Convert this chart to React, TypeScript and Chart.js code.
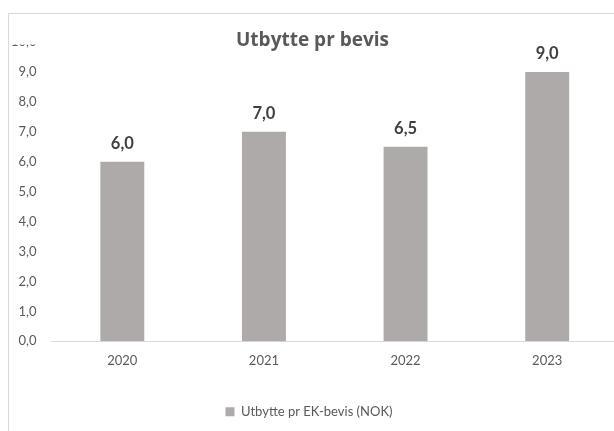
import React, { useEffect, useRef } from "react";
import { Chart, registerables } from "chart.js";

Chart.register(...registerables);

const titleText = "Utbytte pr bevis";
const seriesLabel = "Utbytte pr EK-bevis (NOK)";
const categories = ["2020", "2021", "2022", "2023"];
const values = [6.0, 7.0, 6.5, 9.0];
const yMin = 0;
const yMax = 10;
const yStep = 1;

const FONT = "Lato, 'Open Sans', sans-serif";
const TITLE_FONT = "'Open Sans', Lato, sans-serif";
const BAR_COLOR = "#AEAAAA";
const TEXT_COLOR = "#595959";
const LABEL_COLOR = "#404040";
const LINE_COLOR = "#D9D9D9";

const fmt = (v: number) => v.toFixed(1).replace(".", ",");

const decorPlugin = {
  id: "decor",
  beforeDraw(chart: any) {
    const ctx = chart.ctx;
    ctx.save();
    ctx.fillStyle = "#ffffff";
    ctx.fillRect(0, 0, chart.width, chart.height);
    ctx.strokeStyle = LINE_COLOR;
    ctx.lineWidth = 1;
    ctx.strokeRect(8.5, 13.5, chart.width + 100, chart.height + 100);
    ctx.restore();
  },
  afterDatasetsDraw(chart: any) {
    const ctx = chart.ctx;
    const meta = chart.getDatasetMeta(0);
    ctx.save();
    ctx.fillStyle = LABEL_COLOR;
    ctx.font = `bold 16.5px ${FONT}`;
    ctx.textAlign = "center";
    ctx.textBaseline = "alphabetic";
    meta.data.forEach((bar: any, i: number) => {
      ctx.fillText(fmt(values[i]), bar.x, bar.y - 13);
    });
    ctx.restore();
  },
  afterDraw(chart: any) {
    const ctx = chart.ctx;
    ctx.save();
    ctx.fillStyle = "#ffffff";
    ctx.fillRect(9, 14, 590, 30.5);
    ctx.fillStyle = TEXT_COLOR;
    ctx.font = `bold 19px ${TITLE_FONT}`;
    ctx.textAlign = "center";
    ctx.textBaseline = "alphabetic";
    ctx.fillText(titleText, 312.5, 45.5);
    ctx.restore();
  },
};

export default function App() {
  const canvasRef = useRef<HTMLCanvasElement | null>(null);

  useEffect(() => {
    if (!canvasRef.current) return;
    const chart = new Chart(canvasRef.current, {
      type: "bar",
      data: {
        labels: categories,
        datasets: [
          {
            label: seriesLabel,
            data: values,
            backgroundColor: BAR_COLOR,
            borderWidth: 0,
            categoryPercentage: 1,
            barPercentage: 0.31,
          },
        ],
      },
      options: {
        animation: false,
        responsive: false,
        layout: { padding: { top: 42, right: 12, bottom: 2.7, left: 0 } },
        plugins: {
          title: { display: false },
          tooltip: { enabled: false },
          legend: {
            position: "bottom",
            labels: {
              boxWidth: 9,
              boxHeight: 9,
              padding: 10,
              color: TEXT_COLOR,
              font: { family: FONT, size: 13 },
            },
          },
        },
        scales: {
          x: {
            grid: { display: false, drawTicks: false },
            border: { display: true, color: LINE_COLOR, width: 1 },
            ticks: {
              color: TEXT_COLOR,
              font: { family: FONT, size: 13 },
              padding: 12,
            },
            afterFit(scale: any) {
              scale.height = 54;
            },
          },
          y: {
            min: yMin,
            max: yMax,
            grid: { display: false, drawTicks: false },
            border: { display: false },
            ticks: {
              stepSize: yStep,
              color: TEXT_COLOR,
              font: { family: FONT, size: 13 },
              padding: 15,
              callback: (v: any) => fmt(Number(v)),
            },
            afterFit(scale: any) {
              scale.width = 51.5;
            },
          },
        },
      },
      plugins: [decorPlugin],
    });
    return () => chart.destroy();
  }, []);

  return (
    <div
      style={{
        position: "absolute",
        left: 0,
        top: 0,
        width: 614,
        height: 431,
        overflow: "hidden",
        background: "#fff",
      }}
    >
      <canvas ref={canvasRef} width={630} height={431} style={{ display: "block" }} />
    </div>
  );
}
